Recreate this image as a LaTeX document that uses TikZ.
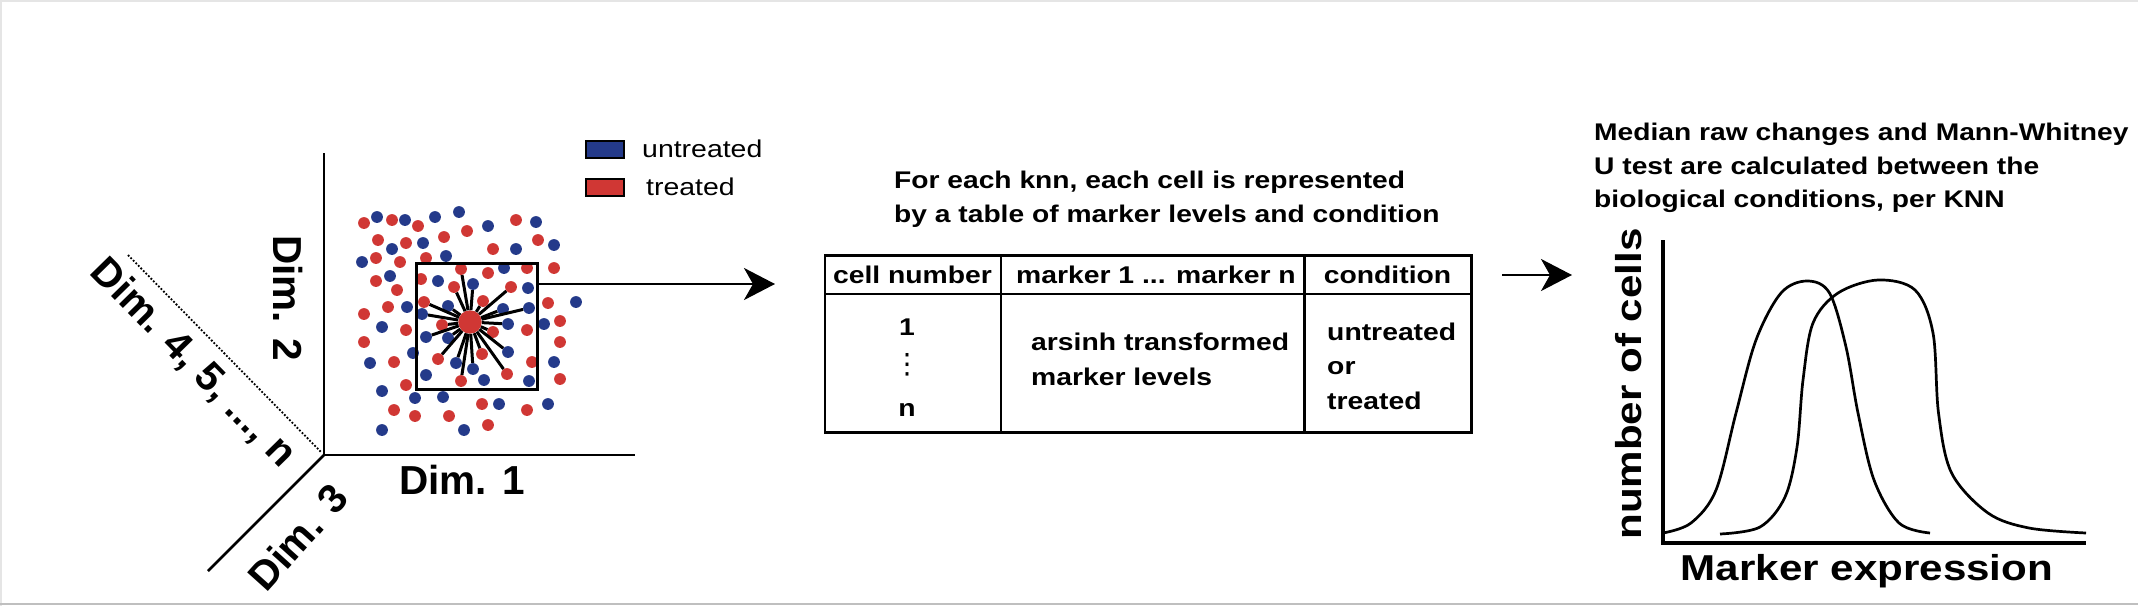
\documentclass[tikz,border=0pt]{standalone}
\usepackage{fontspec}
\setmainfont{Liberation Sans}
\newfontfamily\widefont[FakeStretch=1.17]{Liberation Sans}
\newfontfamily\dotsfont{DejaVu Sans}
\usetikzlibrary{arrows.meta}

\definecolor{treatedred}{RGB}{208,55,52}
\definecolor{untreatedblue}{RGB}{36,58,138}

\tikzset{
  dot/.style={circle, inner sep=0pt, minimum size=11.8pt},
  spoke/.style={line width=3pt},
  thickline/.style={line width=2.8pt},
  tableline/.style={line width=2.5pt},
  curve/.style={line width=2.7pt},
  bigarrow/.style={line width=2.7pt, -{Stealth[length=31pt, width=32pt, inset=9pt]}},
  dimlabel/.style={inner sep=0pt, font=\fontsize{40.5}{48}\selectfont\bfseries},
  legendkey/.style={draw, line width=2.4pt, minimum width=37.6pt, minimum height=16.6pt, inner sep=0pt},
  legendtext/.style={inner sep=0pt, font=\widefont\fontsize{24.3}{29}\selectfont},
  titletext/.style={inner sep=0pt, align=left, font=\widefont\fontsize{24.1}{33.8}\selectfont\bfseries},
  tabletext/.style={inner sep=0pt, align=left, font=\widefont\fontsize{24.2}{34.5}\selectfont\bfseries},
  axislabel/.style={inner sep=0pt, font=\widefont\fontsize{36}{42}\selectfont\bfseries}
}

\begin{document}
\begin{tikzpicture}[x=1pt, y=-1pt]
    \useasboundingbox (0,0) rectangle (2138,606);
    % frame
    \draw[black!10, line width=1.6pt] (0.8,606) -- (0.8,0.8) -- (2138,0.8);
    \draw[black!25, line width=2pt] (0,604) -- (2138,604);

    % axes of the cell space
    \coordinate (origin) at (324,455);
    \coordinate (dimtwoend) at (324,153);
    \coordinate (dimoneend) at (635,455);
    \coordinate (dimthreeend) at (208,571);
    \coordinate (dimmorestart) at (128,255);
    \coordinate (dimmoreend) at (321,452);
    \draw[thickline] (dimtwoend) -- (origin) -- (dimoneend);
    \draw[thickline] (origin) -- (dimthreeend);
    \draw[line width=1.8pt, dash pattern=on 1.8pt off 1.8pt] (dimmorestart) -- (dimmoreend);
    \node[dimlabel, anchor=base] (dimone) at (462,494) {Dim. 1};
    \node[dimlabel, rotate=-90] (dimtwo) at (288,298) {Dim. 2};
    \node[dimlabel, rotate=48] (dimthree) at (298,537) {Dim. 3};
    \node[dimlabel, rotate=-45.6] (dimmore) at (193,363) {Dim. 4, 5, ..., n};

    % legend
    \node[legendkey, fill=untreatedblue] (keyuntreated) at (605,149.5) {};
    \node[legendkey, fill=treatedred] (keytreated) at (605,187.5) {};
    \node[legendtext, anchor=base west] (untreated) at (642,157) {untreated};
    \node[legendtext, anchor=base west] (treated) at (646,195) {treated};

    % cells
    \foreach \x/\y [count=\i] in {364/223, 392/220, 418/226, 516/220, 378/240, 406/243, 444/237,
        467/231, 493/249, 538/240, 376/258, 400/262, 426/258, 376/281, 397/290, 554/268, 421/279,
        488/273, 527/268, 548/303, 364/314, 388/307, 406/330, 560/321, 527/330, 364/342, 560/342,
        394/362, 532/362, 560/379, 406/385, 482/404, 527/410, 394/410, 415/416, 449/416, 488/425}
        \node[dot, fill=treatedred] (t\i) at (\x,\y) {};
    \foreach \x/\y [count=\i] in {377/217, 405/220, 435/217, 459/212, 488/226, 536/222, 392/249,
        423/243, 516/249, 554/245, 362/262, 446/256, 390/276, 438/281, 504/268, 528/288, 576/302,
        407/307, 382/327, 544/324, 413/353, 370/363, 554/362, 426/375, 484/380, 529/381, 382/391,
        415/398, 443/397, 499/404, 548/404, 382/430, 464/430}
        \node[dot, fill=untreatedblue] (u\i) at (\x,\y) {};
    % nearest neighbours of the central cell
    \foreach \x/\y/\col [count=\i] in {461/269/treatedred, 473/284/untreatedblue, 454/287/treatedred,
        511/287/treatedred, 483/301/treatedred, 529/308/untreatedblue, 503/309/untreatedblue,
        424/302/treatedred, 448/306/untreatedblue, 422/314/untreatedblue, 442/325/treatedred,
        426/337/untreatedblue, 448/338/untreatedblue, 493/332/treatedred, 508/324/untreatedblue,
        438/359/treatedred, 456/363/untreatedblue, 461/381/treatedred, 473/369/untreatedblue,
        482/354/treatedred, 508/352/untreatedblue, 507/374/treatedred}
        \node[dot, fill=\col] (nb\i) at (\x,\y) {};
    \node[dot, fill=treatedred, minimum size=23.4pt] (knn) at (470,322) {};
    \foreach \i in {1,...,22}
        \draw[spoke] (knn) -- (nb\i);
    \node[draw, line width=2.8pt, minimum width=121.5pt, minimum height=126.5pt, inner sep=0pt] (knnbox) at (477,326.5) {};
    \coordinate (tabletip) at (775,284);
    \draw[bigarrow] (knnbox.east |- tabletip) -- (tabletip);

    % table of marker levels
    \node[titletext, anchor=north west] (tabletitle) at (894,170.7) {For each knn, each cell is represented\\by a table of marker levels and condition};
    \coordinate (tabnw) at (825,255.3);
    \coordinate (tabse) at (1471.4,432.3);
    \draw[tableline] (tabnw) rectangle (tabse);
    \draw[tableline] (825,294) -- (1471.4,294);
    \draw[tableline] (1001,255.3) -- (1001,432.3);
    \draw[tableline] (1304.5,255.3) -- (1304.5,432.3);
    \node[tabletext, anchor=base] (headcell) at (912.5,283) {cell number};
    \node[tabletext, anchor=base] (headmarker) at (1156,283) {marker 1 ... marker n};
    \node[tabletext, anchor=base] (headcond) at (1387.5,283) {condition};
    \node[tabletext, anchor=base] (cellfirst) at (907,335) {1};
    \node[inner sep=0pt, font=\dotsfont\fontsize{28}{32}\selectfont] (celldots) at (907,365) {⋮};
    \node[tabletext, anchor=base] (celllast) at (907,416.7) {n};
    \node[tabletext, anchor=north west] (levels) at (1031,333) {arsinh transformed\\marker levels};
    \node[tabletext, anchor=north west] (cond) at (1327,322.7) {untreated\\or\\treated};

    % arrow to the test
    \coordinate (arrowstart) at (1502,275);
    \coordinate (arrowend) at (1572,275);
    \draw[bigarrow] (arrowstart) -- (arrowend);

    % distributions per condition
    \node[titletext, anchor=north west] (testtitle) at (1594,122.7) {Median raw changes and Mann-Whitney\\U test are calculated between the\\biological conditions, per KNN};
    \coordinate (historigin) at (1662.5,543);
    \coordinate (histtop) at (1662.5,240);
    \coordinate (histright) at (2086,543);
    \draw[line width=4pt] (histtop) -- (historigin) -- (histright);
    \draw[curve] plot[smooth, tension=0.55] coordinates {(1663,533) (1691,523) (1716,490) (1736,413)
        (1756,340) (1781,293) (1807,281) (1829.5,293) (1846,347) (1858,413) (1874,480) (1899,523) (1930,533)};
    \draw[curve] plot[smooth, tension=0.55] coordinates {(1720,534) (1760,527) (1785,497) (1797,447)
        (1803,380) (1813,323) (1838,293) (1878,280) (1915,290) (1933,333) (1938.5,413) (1951.6,473)
        (1988,513) (2029,528) (2086,533)};
    \node[axislabel, rotate=90] (ylabel) at (1629,384) {number of cells};
    \node[axislabel, anchor=base] (xlabel) at (1867,580) {Marker expression};
\end{tikzpicture}
\end{document}
